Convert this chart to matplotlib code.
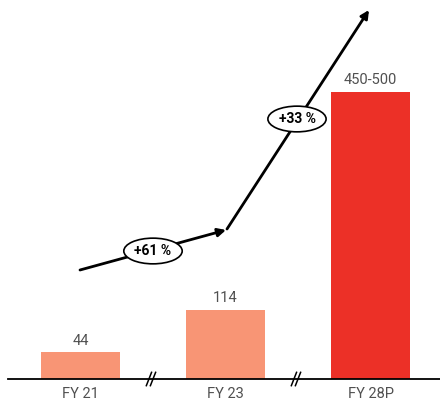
import numpy as np
import matplotlib.pyplot as plt

years = ['FY 21', 'FY 23', 'FY 28P']
values = [44, 114, 475]
value_labels = ['44', '114', '450-500']
colors = ['#F89575', '#F89575', '#EC3027']
growth = ['+61 %', '+33 %']

plt.rcParams['font.family'] = ['Roboto', 'DejaVu Sans']

fig = plt.figure(figsize=(4.4, 4.05), dpi=100)
ax = fig.add_axes([0, 0, 1, 1])

x = np.arange(len(years))
ax.bar(x, values, width=0.55, color=colors)
for xi, v, lab in zip(x, values, value_labels):
    ax.text(xi, v + 8, lab, ha='center', va='bottom', fontsize=10.5, color='#505050')
    ax.text(xi, -14, years[xi], ha='center', va='top', fontsize=10.5, color='#505050')

s = 0.605  # pixels per unit
ax.set_xlim(-80.5 / 145, (440 - 80.5) / 145)
ax.set_ylim(-26 / s, (405 - 26) / s)
ax.axhline(0, xmin=8 / 440, xmax=1, color='black', lw=1.3)

# axis break marks
for xb in (0.5, 1.5):
    for dx in (-0.028, 0.0):
        ax.plot([xb + dx - 0.018, xb + dx + 0.018], [-11, 11], color='black', lw=1.1)
ax.axis('off')

# growth arrows, in figure pixels
H = 405
def px(x, y):
    return (x, H - y)

ax.annotate('', xy=px(226, 230), xytext=px(80, 270), xycoords='figure pixels',
            textcoords='figure pixels',
            arrowprops=dict(arrowstyle='-|>', lw=2, color='black', mutation_scale=12,
                            shrinkA=0, shrinkB=0))
ax.annotate('', xy=px(369, 10), xytext=px(227, 229), xycoords='figure pixels',
            textcoords='figure pixels',
            arrowprops=dict(arrowstyle='-|>', lw=2, color='black', mutation_scale=12,
                            shrinkA=0, shrinkB=0))

for (gx, gy), g in zip([(153, 251), (297, 119)], growth):
    fig.text(gx / 440, 1 - gy / H, g, ha='center', va='center', fontsize=10,
             fontweight='bold', color='black',
             bbox=dict(boxstyle='ellipse,pad=0.15', fc='white', ec='black', lw=1.2))

fig.savefig('out.png', dpi=100)
